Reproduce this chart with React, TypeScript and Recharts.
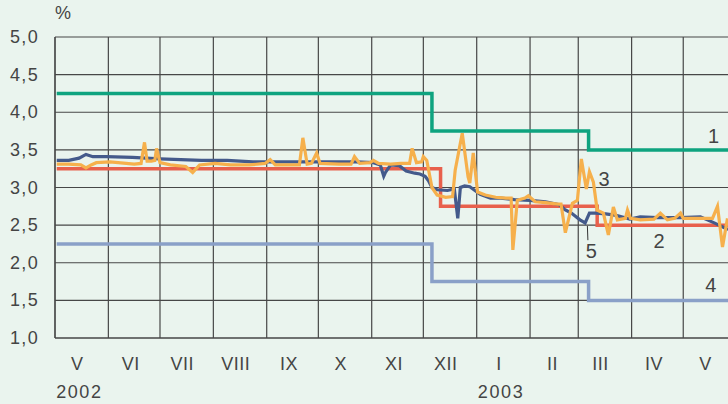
import React from 'react';
import { LineChart, Line, XAxis, YAxis, CartesianGrid, ReferenceLine, ReferenceDot } from 'recharts';

// day index counted from 1 May 2002
const monthStarts = [0, 31, 61, 92, 123, 153, 184, 214, 245, 276, 304, 335, 365];
const monthLabels = ['V', 'VI', 'VII', 'VIII', 'IX', 'X', 'XI', 'XII', 'I', 'II', 'III', 'IV', 'V'];
const yearLabels = ['2002', '', '', '', '', '', '', '', '2003', '', '', '', ''];
const yTicks = [1, 1.5, 2, 2.5, 3, 3.5, 4, 4.5, 5];
const labelDays = monthStarts.map((d) => d + 13);

// 1 – marginal lending rate
const series1 = [
  { day: 1, v: 4.25 }, { day: 219, v: 3.75 }, { day: 310, v: 3.5 }, { day: 391, v: 3.5 },
];
// 2 – main refinancing rate
const series2 = [
  { day: 1, v: 3.25 }, { day: 224, v: 2.75 }, { day: 315, v: 2.5 }, { day: 391, v: 2.5 },
];
// 4 – deposit rate
const series4 = [
  { day: 1, v: 2.25 }, { day: 219, v: 1.75 }, { day: 310, v: 1.5 }, { day: 391, v: 1.5 },
];
// 3 – overnight rate
const series3Days = [1, 8, 15, 18, 21, 24, 32, 46, 50, 52, 53.5, 56, 58, 59, 61, 67, 76, 80, 84, 93, 102, 113, 122, 125, 128, 142, 144, 146.5, 149, 152, 154, 165, 172, 174, 177, 183, 185, 188, 195, 201, 206, 207.5, 210, 213, 214, 216, 219, 222, 227, 231, 232.5, 236.6, 240, 241, 243, 245.5, 250, 256, 262, 265, 266, 268.6, 273, 275, 279, 285, 292, 294, 296.5, 300.6, 303.5, 305.8, 308.7, 310.5, 312.8, 315, 318.6, 321.5, 324.4, 326.7, 331.4, 332.6, 334.3, 340, 348, 351.7, 355.8, 360, 363.4, 365, 375, 382, 384.9, 387.8, 390.7];
const series3Vals = [3.31, 3.31, 3.30, 3.26, 3.30, 3.33, 3.34, 3.31, 3.32, 3.60, 3.35, 3.35, 3.36, 3.52, 3.33, 3.30, 3.28, 3.20, 3.30, 3.32, 3.30, 3.30, 3.32, 3.37, 3.30, 3.30, 3.66, 3.31, 3.32, 3.46, 3.32, 3.31, 3.31, 3.41, 3.32, 3.33, 3.36, 3.32, 3.31, 3.32, 3.32, 3.52, 3.33, 3.34, 3.41, 3.36, 3.0, 2.9, 2.87, 2.88, 3.23, 3.72, 3.14, 3.06, 3.46, 2.94, 2.90, 2.87, 2.86, 2.86, 2.17, 2.83, 2.86, 2.89, 2.81, 2.80, 2.78, 2.78, 2.40, 2.79, 2.83, 3.38, 2.98, 3.21, 3.07, 2.70, 2.66, 2.37, 2.74, 2.57, 2.59, 2.70, 2.59, 2.57, 2.58, 2.66, 2.57, 2.59, 2.66, 2.59, 2.59, 2.59, 2.75, 2.21, 2.59];
// 5 – money market rate
const series5Days = [1, 8, 14, 18, 22, 30, 45, 61, 85, 100, 115, 130, 145, 160, 175, 185, 189, 191, 192, 195, 200, 204, 209, 212, 215, 217, 219, 222, 228, 232, 234, 235.5, 238, 241, 244, 247, 253, 259, 267, 276, 285, 293, 296, 300, 305, 308, 310.5, 314, 320, 326, 334, 340, 350, 363, 375, 383, 391];
const series5Vals = [3.36, 3.36, 3.39, 3.44, 3.41, 3.41, 3.40, 3.38, 3.36, 3.36, 3.34, 3.34, 3.34, 3.34, 3.34, 3.33, 3.30, 3.15, 3.20, 3.30, 3.29, 3.22, 3.19, 3.18, 3.15, 3.09, 3.00, 2.97, 2.96, 2.98, 2.59, 3.00, 3.02, 3.01, 2.96, 2.91, 2.86, 2.86, 2.84, 2.83, 2.81, 2.77, 2.71, 2.66, 2.57, 2.53, 2.66, 2.66, 2.65, 2.63, 2.58, 2.61, 2.60, 2.60, 2.61, 2.53, 2.44];

const series3 = series3Days.map((day, i) => ({ day, v: series3Vals[i] }));
const series5 = series5Days.map((day, i) => ({ day, v: series5Vals[i] }));

const annotations = [
  { text: '1', day: 382.6, v: 3.69 },
  { text: '2', day: 351, v: 2.29 },
  { text: '3', day: 319, v: 3.12 },
  { text: '4', day: 381, v: 1.7 },
  { text: '5', day: 311.6, v: 2.16 },
];

const FONT = '"Liberation Sans", Arial, sans-serif';
const TEXT = '#444444';
const GRID = '#474747';

const MonthTick = (props: any) => {
  const { x, y, payload } = props;
  const i = labelDays.indexOf(payload.value);
  return (
    <g>
      <text x={x} y={y} dy={24} textAnchor="middle" fontSize={18} fill={TEXT} fontFamily={FONT} letterSpacing={0.5}>
        {monthLabels[i]}
      </text>
      {yearLabels[i] ? (
        <text x={x + 2} y={y} dy={52} textAnchor="middle" fontSize={18} fill={TEXT} fontFamily={FONT} letterSpacing={1.6}>
          {yearLabels[i]}
        </text>
      ) : null}
    </g>
  );
};

const ValueTick = (props: any) => {
  const { x, y, payload } = props;
  return (
    <text x={x - 8} y={y} dy={6} textAnchor="end" fontSize={18} fill={TEXT} fontFamily={FONT} letterSpacing={1.3}>
      {payload.value.toFixed(1).replace('.', ',')}
    </text>
  );
};

export default function App() {
  return (
    <div style={{ position: 'absolute', left: 0, top: 0, width: 728, height: 404, background: '#eaf4ee', overflow: 'hidden' }}>
      <div style={{ position: 'absolute', left: 55, top: 3, fontSize: 18, color: TEXT, fontFamily: FONT }}>%</div>
      <LineChart width={728} height={404} margin={{ top: 37, right: 0, bottom: 0, left: 0 }}>
        <CartesianGrid vertical={false} stroke={GRID} strokeWidth={1.2} />
        <XAxis
          type="number"
          dataKey="day"
          domain={[0, 391]}
          ticks={labelDays}
          interval={0}
          tickLine={false}
          axisLine={{ stroke: GRID, strokeWidth: 1.2 }}
          tick={<MonthTick />}
          allowDataOverflow
          height={66}
        />
        <YAxis
          type="number"
          domain={[1, 5]}
          ticks={yTicks}
          interval={0}
          width={55}
          tickLine={false}
          axisLine={{ stroke: GRID, strokeWidth: 1.2 }}
          tick={<ValueTick />}
          allowDataOverflow
        />
        {monthStarts.map((d) => (
          <ReferenceLine key={d} x={d} stroke={GRID} strokeWidth={1.2} />
        ))}
        <Line data={series4} dataKey="v" type="stepAfter" stroke="#8aa0c8" strokeWidth={3.5} dot={false} isAnimationActive={false} />
        <Line data={series1} dataKey="v" type="stepAfter" stroke="#0ea37f" strokeWidth={3.5} dot={false} isAnimationActive={false} />
        <Line data={series2} dataKey="v" type="stepAfter" stroke="#e8604c" strokeWidth={3.5} dot={false} isAnimationActive={false} />
        <Line data={series5} dataKey="v" type="linear" stroke="#445a8b" strokeWidth={3.2} dot={false} isAnimationActive={false} />
        <Line data={series3} dataKey="v" type="linear" stroke="#f6b04c" strokeWidth={3.2} dot={false} isAnimationActive={false} />
        <ReferenceLine segment={[{ x: 309.3, y: 2.49 }, { x: 309.6, y: 2.3 }]} stroke="#333" strokeWidth={1} />
        {annotations.map((a) => (
          <ReferenceDot
            key={a.text}
            x={a.day}
            y={a.v}
            r={0}
            fill="none"
            stroke="none"
            label={{ value: a.text, position: 'center', fill: TEXT, fontSize: 20, fontFamily: FONT }}
          />
        ))}
      </LineChart>
    </div>
  );
}
